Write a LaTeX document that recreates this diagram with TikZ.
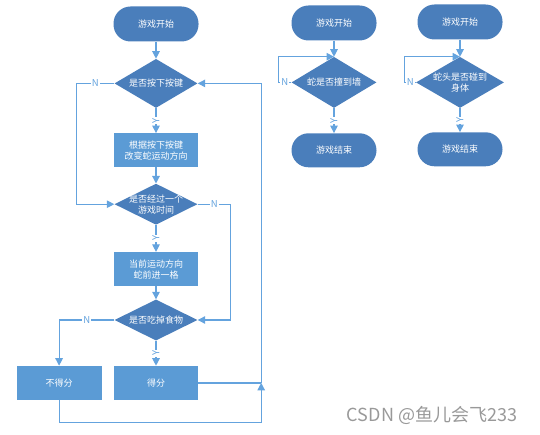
\documentclass[tikz,border=0pt]{standalone}
\usepackage{fontspec}
\setmainfont{Noto Sans CJK SC}
\usepackage{xcolor}
\usetikzlibrary{shapes.geometric, arrows.meta, positioning}

\definecolor{darkblue}{RGB}{74,126,187}
\definecolor{lightblue}{RGB}{91,155,213}
\definecolor{linecol}{RGB}{100,163,222}

\begin{document}
\begin{tikzpicture}[
    x=1pt, y=1pt,
    term/.style={rectangle, rounded corners=17pt, fill=darkblue, text=white,
                 minimum width=85pt, minimum height=35pt, inner sep=0pt,
                 font=\fontsize{9}{11}\selectfont},
    act/.style={rectangle, fill=lightblue, text=white, align=center,
                minimum width=84pt, minimum height=34pt, inner sep=0pt,
                font=\fontsize{9}{11}\selectfont},
    decision/.style={diamond, aspect=2, fill=darkblue, text=white, align=center,
                     minimum width=83pt, minimum height=41pt, inner sep=-8pt,
                     font=\fontsize{9}{11}\selectfont},
    line/.style={draw=linecol, line width=1.2pt},
    arrow/.style={line, -{Triangle[length=7.5pt,width=7.5pt]}},
    lab/.style={fill=white, text=linecol, inner sep=1pt, font=\fontsize{9.5}{9.5}\selectfont},
    ylab/.style={lab, rotate=90}
]
\useasboundingbox (0,0) rectangle (540,-435);

\node[term] (start) at (156,-24) {游戏开始};
\node[decision, minimum height=49pt, below=17pt of start] (d1) {是否按下按键};
\node[act, below=25pt of d1] (act1) {根据按下按键\\改变蛇运动方向};
\node[decision, below=16pt of act1] (d2) {是否经过一个\\游戏时间};
\node[act, below=27pt of d2] (act2) {当前运动方向\\蛇前进一格};
\node[decision, below=13pt of act2] (d3) {是否吃掉食物};
\node[act, below=25pt of d3] (defen) {得分};
\node[act, minimum width=85pt, left=12pt of defen] (budefen) {不得分};
\coordinate[right=63pt of defen.east] (jn);

\draw[arrow] (start) -- (d1);
\draw[arrow] (d1) -- node[ylab] {Y} (act1);
\draw[arrow] (act1) -- (d2);
\draw[arrow] (d2) -- node[ylab] {Y} (act2);
\draw[arrow] (act2) -- (d3);
\draw[arrow] (d3) -- node[ylab] {Y} (defen);

\draw[arrow] (d1.west) -- node[lab] {N} ++(-38,0) |- (d2.west);
\draw[arrow] (d2.east) -- node[lab] {N} ++(33,0) |- (d3.east);
\draw[arrow] (d3.west) -| node[lab, pos=0.25] {N} (budefen.north);

\draw[arrow] (budefen.south) -- ++(0,-22) -| (jn);
\draw[line] (defen.east) -- (jn);
\draw[arrow] (jn) |- (d1.east);

\node[term] (start2) at (334,-23) {游戏开始};
\node[decision, minimum width=85pt, minimum height=51pt, below=16pt of start2] (wall) {蛇是否撞到墙};
\node[term, minimum height=34pt, below=25pt of wall] (end2) {游戏结束};

\draw[arrow] (start2) -- (wall);
\draw[arrow] (wall) -- node[ylab] {Y} (end2);
\draw[arrow] (wall.west) -- node[lab] {N} ++(-13,0) |- (wall.north);

\node[term] (start3) at (460,-22) {游戏开始};
\node[decision, minimum width=88pt, minimum height=51pt, below=17pt of start3] (body) {蛇头是否碰到\\身体};
\node[term, minimum height=34pt, below=24pt of body] (end3) {游戏结束};

\draw[arrow] (start3) -- (body);
\draw[arrow] (body) -- node[ylab] {Y} (end3);
\draw[arrow] (body.west) -- node[lab] {N} ++(-11,0) |- (body.north);

\node[text=gray!80, font=\fontsize{18}{18}\selectfont] (mark) at (432,-415) {CSDN @鱼儿会飞233};
\end{tikzpicture}
\end{document}
